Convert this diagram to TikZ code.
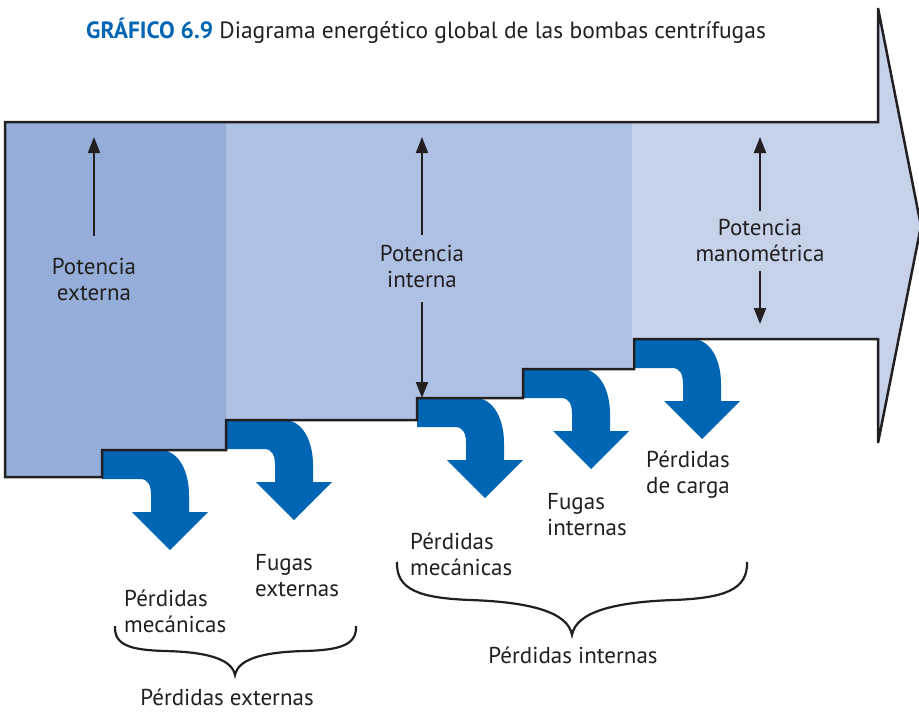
\documentclass[tikz,border=0pt]{standalone}
\usepackage{fontspec}
\setmainfont{PT Sans}
\usetikzlibrary{arrows.meta}
\definecolor{azulfuerte}{HTML}{0066B3}
\definecolor{zonaext}{HTML}{94AED9}
\definecolor{zonaint}{HTML}{AEC0E3}
\definecolor{zonaman}{HTML}{C6D2EA}
\definecolor{tinta}{HTML}{231F20}
\tikzset{
  etiqueta/.style={align=left, inner sep=0pt, text=tinta, font=\fontsize{23}{26}\selectfont},
  flechita/.style={draw=tinta, line width=2pt, -{Triangle[length=16pt,width=12pt]}},
  llave/.style={draw=tinta, line width=2.2pt},
  perdida/.style={fill=azulfuerte}
}
\begin{document}
\begin{tikzpicture}[x=1pt,y=-1pt]
\useasboundingbox (0,0) rectangle (919,712);
\node[anchor=base west, inner sep=0pt, text=tinta, font=\fontsize{23.5}{26}\selectfont] (titulo) at (86,38)
  {{\bfseries\color{azulfuerte}GRÁFICO 6.9} Diagrama energético global de las bombas centrífugas};

% flecha principal
\begin{scope}
\clip (5,122) -- (878,122) -- (878,8) -- (921,226) -- (878,443) -- (878,339) -- (634,339)
  -- (634,369) -- (523,369) -- (523,398) -- (417,398) -- (417,420) -- (226,420)
  -- (226,450) -- (102,450) -- (102,477) -- (5,477) -- cycle;
\fill[zonaext] (0,0) rectangle (226,500);
\fill[zonaint] (226,0) rectangle (632,500);
\fill[zonaman] (632,0) rectangle (930,500);
\end{scope}

% perdidas
\foreach \ox/\oy in {102/450, 226/420, 417/398, 523/369, 634/339}
  \fill[perdida, shift={(\ox,\oy)}] (0,0) -- (58,0) .. controls (76,0) and (87,20) .. (87,45)
    -- (87,62) -- (106,62) -- (68,100) -- (30,62) -- (49,62) -- (49,45)
    .. controls (49,35) and (46,29) .. (38,29) -- (0,29) -- cycle;

\draw[tinta, line width=2.5pt, line join=miter] (5,122) -- (878,122) -- (878,8) -- (921,226) -- (878,443) -- (878,339) -- (634,339)
  -- (634,369) -- (523,369) -- (523,398) -- (417,398) -- (417,420) -- (226,420)
  -- (226,450) -- (102,450) -- (102,477) -- (5,477) -- cycle;

% potencias
\node[etiqueta, align=center] (pext) at (94,279) {Potencia\\externa};
\node[etiqueta, align=center] (pint) at (422,266) {Potencia\\interna};
\node[etiqueta, align=center] (pman) at (760,240) {Potencia\\manométrica};
\coordinate (pext-tope) at (94,137);
\coordinate (pint-tope) at (422,137);
\coordinate (pint-pie) at (422,398);
\coordinate (pman-tope) at (760,137);
\coordinate (pman-pie) at (760,324);
\draw[flechita, shorten <=22pt] (pext) -- (pext-tope);
\draw[flechita, shorten <=10pt] (pint) -- (pint-tope);
\draw[flechita, shorten <=15pt] (pint) -- (pint-pie);
\draw[flechita, shorten <=8pt] (pman) -- (pman-tope);
\draw[flechita, shorten <=10pt] (pman) -- (pman-pie);

% textos de perdidas
\node[etiqueta, anchor=west] (mecext) at (124,611) {Pérdidas\\mecánicas};
\node[etiqueta, anchor=west] (fugext) at (255,576) {Fugas\\externas};
\node[etiqueta] (totext) at (227,697) {Pérdidas externas};
\node[etiqueta, anchor=west] (mecint) at (410,554) {Pérdidas\\mecánicas};
\node[etiqueta, anchor=west] (fugint) at (547,515) {Fugas\\internas};
\node[etiqueta, anchor=west] (carga) at (646,475) {Pérdidas\\de carga};
\node[etiqueta] (totint) at (573,655) {Pérdidas internas};

% llaves
\draw[llave] (115,626) .. controls (114,645) and (130,650) .. (165,651)
  .. controls (210,652) and (232,660) .. (235,675)
  .. controls (238,660) and (260,652) .. (305,651)
  .. controls (340,650) and (357,645) .. (356,626);
\draw[llave] (397,562) .. controls (396,590) and (420,598) .. (470,600)
  .. controls (530,602) and (568,612) .. (572,635)
  .. controls (576,612) and (614,602) .. (674,600)
  .. controls (724,598) and (748,590) .. (747,562);
\end{tikzpicture}
\end{document}
